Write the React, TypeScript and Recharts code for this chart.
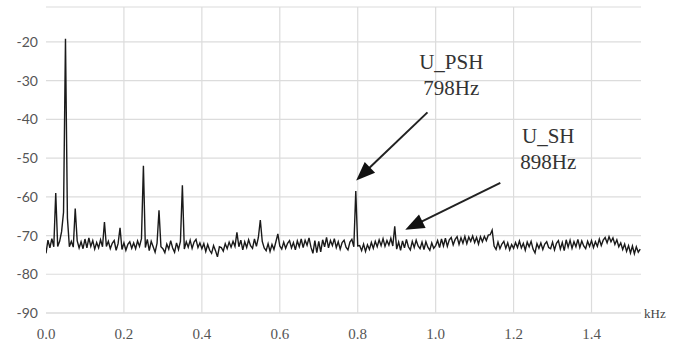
import React from "react";
import {
  LineChart,
  Line,
  XAxis,
  YAxis,
  CartesianGrid,
  ReferenceLine,
  ReferenceDot,
} from "recharts";

// Spectrum sampled every 5 Hz from 0 Hz (values in dB)
const FREQ_STEP_KHZ = 0.005;
const levelsDb: number[] = [
  // 0 - 95 Hz
  -74.6, -71.2, -73.2, -70.8, -72.9, -59.0, -72.8, -71.5, -69.0, -64.0,
  -19.2, -65.5, -72.9, -71.5, -73.0, -63.0, -71.3, -73.2, -71.6, -73.4,
  // 100 - 195 Hz
  -70.9, -73.2, -70.6, -72.8, -71.3, -73.5, -71.8, -73.2, -71.1, -72.9,
  -66.5, -72.8, -71.5, -73.4, -72.0, -71.3, -73.8, -72.1, -68.0, -73.6,
  // 200 - 295 Hz
  -71.9, -73.8, -72.3, -71.6, -73.3, -71.9, -73.4, -71.4, -72.8, -70.8,
  -52.0, -73.1, -71.0, -73.9, -71.5, -72.9, -74.3, -72.0, -63.5, -72.9,
  // 300 - 395 Hz
  -73.4, -74.4, -72.2, -73.5, -71.3, -73.2, -74.3, -71.9, -73.6, -71.5,
  -57.0, -73.5, -71.6, -73.0, -71.2, -73.3, -71.7, -71.0, -73.1, -71.9,
  // 400 - 495 Hz
  -73.4, -72.1, -74.1, -72.3, -73.8, -74.6, -72.6, -73.9, -75.5, -72.9,
  -73.1, -74.0, -72.1, -73.4, -71.7, -73.0, -71.5, -72.8, -69.2, -72.9,
  // 500 - 595 Hz
  -71.2, -73.7, -71.6, -73.1, -71.1, -72.6, -73.3, -70.9, -72.8, -70.5,
  -66.0, -71.5, -73.2, -73.9, -72.1, -74.1, -72.3, -73.6, -71.6, -69.6,
  // 600 - 695 Hz
  -72.7, -73.5, -71.7, -73.3, -72.0, -71.3, -73.2, -71.8, -73.7, -71.4,
  -72.9, -70.9, -73.1, -71.2, -72.5, -70.6, -73.0, -74.6, -71.3, -74.4,
  // 700 - 795 Hz
  -71.5, -74.2, -71.1, -72.9, -70.5, -73.2, -71.3, -72.6, -70.8, -73.1,
  -71.6, -73.5, -71.8, -71.2, -73.0, -73.7, -71.7, -71.0, -72.9, -58.5,
  // 800 - 895 Hz
  -72.7, -72.6, -73.9, -72.2, -74.1, -72.4, -73.6, -71.8, -73.3, -71.5,
  -72.9, -71.1, -72.6, -70.8, -72.8, -71.3, -72.5, -70.7, -72.7, -67.6,
  // 900 - 995 Hz
  -73.5, -71.7, -73.8, -71.4, -73.2, -71.0, -72.9, -73.7, -71.5, -73.1,
  -71.2, -72.7, -73.4, -71.7, -73.6, -71.6, -73.0, -73.8, -71.9, -73.3,
  // 1000 - 1095 Hz
  -72.6, -71.3, -73.1, -70.9, -72.7, -70.7, -72.8, -71.1, -70.5, -72.4,
  -71.0, -70.3, -72.3, -70.6, -72.0, -70.2, -72.1, -70.4, -71.5, -70.1,
  // 1100 - 1195 Hz
  -71.8, -70.5, -72.2, -70.3, -71.6, -70.2, -71.3, -69.9, -69.8, -68.6,
  -72.7, -73.6, -71.7, -73.4, -72.2, -71.5, -73.3, -71.9, -73.7, -72.3,
  // 1200 - 1295 Hz
  -73.3, -71.8, -73.1, -71.4, -73.2, -72.0, -73.8, -71.7, -72.9, -71.5,
  -73.5, -74.5, -72.1, -73.3, -71.9, -73.6, -72.2, -71.6, -73.1, -73.4,
  // 1300 - 1395 Hz
  -71.7, -73.7, -72.0, -71.3, -73.5, -71.8, -73.9, -71.1, -73.0, -71.2,
  -73.3, -71.6, -72.9, -71.0, -73.1, -71.4, -72.7, -73.4, -71.5, -72.8,
  // 1400 - 1495 Hz
  -71.3, -73.1, -71.6, -72.8, -70.9, -72.6, -71.2, -70.5, -71.9, -70.3,
  -71.6, -70.6, -72.3, -71.1, -72.9, -71.9, -73.6, -72.2, -74.1, -72.6,
  // 1500 - 1525 Hz
  -74.5, -72.7, -74.7, -72.9, -74.3, -73.5,
];

const xTicks = [0, 0.2, 0.4, 0.6, 0.8, 1.0, 1.2, 1.4];
const xGridLines = [0.2, 0.4, 0.6, 0.8, 1.0, 1.2, 1.4];
const yTicks = [-90, -80, -70, -60, -50, -40, -30, -20];
const X_MAX = 1.527;
const Y_MIN = -90;
const Y_MAX = -11;

// Annotations (data coordinates: kHz, dB)
const annotationTexts = [
  { lines: ["U_PSH", "798Hz"], x: 1.04, y: -25.3 },
  { lines: ["U_SH", "898Hz"], x: 1.289, y: -44.4 },
];
const arrows = [
  { from: { x: 0.979, y: -38.2 }, to: { x: 0.796, y: -55.8 } },
  { from: { x: 1.166, y: -56.4 }, to: { x: 0.922, y: -68.5 } },
];

const data = levelsDb.map((v, i) => ({
  f: Math.round(i * FREQ_STEP_KHZ * 1000) / 1000,
  v,
}));

const ArrowShape = (props: any) => {
  const { x1, y1, x2, y2 } = props;
  const dx = x2 - x1;
  const dy = y2 - y1;
  const len = Math.sqrt(dx * dx + dy * dy) || 1;
  const ux = dx / len;
  const uy = dy / len;
  const nx = -uy;
  const ny = ux;
  const L = 19;
  const W = 7.5;
  const bx = x2 - ux * L;
  const by = y2 - uy * L;
  const pts = `${x2},${y2} ${bx + nx * W},${by + ny * W} ${bx - nx * W},${by - ny * W}`;
  return (
    <g>
      <line x1={x1} y1={y1} x2={bx + ux * 2} y2={by + uy * 2} stroke="#222" strokeWidth={2} />
      <polygon points={pts} fill="#111" />
    </g>
  );
};

const makeTextShape = (lines: string[]) => (props: any) => {
  const { cx, cy } = props;
  return (
    <g>
      {lines.map((t, i) => (
        <text
          key={i}
          x={cx}
          y={cy + 7 + i * 25.5}
          textAnchor="middle"
          fontFamily="'Liberation Serif', 'DejaVu Serif', serif"
          fontSize={21}
          fill="#333"
        >
          {t}
        </text>
      ))}
    </g>
  );
};

export default function App() {
  return (
    <div
      style={{
        position: "absolute",
        left: 0,
        top: 0,
        width: 679,
        height: 342,
        background: "#fff",
      }}
    >
      <LineChart
        width={679}
        height={342}
        data={data}
        margin={{ top: 7, right: 38, left: 0, bottom: 0 }}
      >
        <CartesianGrid vertical={false} stroke="#dcdcdc" strokeWidth={1.2} />
        {xGridLines.map((g) => (
          <ReferenceLine key={g} x={g} stroke="#dcdcdc" strokeWidth={1.2} />
        ))}
        <ReferenceLine
          y={-90}
          stroke="#dcdcdc"
          strokeWidth={1.2}
          label={{
            value: "kHz",
            position: "right",
            offset: 3,
            fill: "#444",
            fontSize: 13,
            fontFamily: "'Liberation Serif', serif",
          }}
        />
        <XAxis
          type="number"
          dataKey="f"
          domain={[0, X_MAX]}
          ticks={xTicks}
          tickFormatter={(v: number) => v.toFixed(1)}
          axisLine={false}
          tickLine={false}
          height={29}
          tickMargin={9}
          tick={{ fill: "#555", fontSize: 15, fontFamily: "'Liberation Serif', serif" }}
          allowDataOverflow
        />
        <YAxis
          type="number"
          domain={[Y_MIN, Y_MAX]}
          ticks={yTicks}
          axisLine={false}
          tickLine={false}
          width={46}
          tick={{ fill: "#555", fontSize: 14, fontFamily: "Lato, 'Open Sans', sans-serif" }}
          allowDataOverflow
        />
        <Line
          type="linear"
          dataKey="v"
          stroke="#1a1a1a"
          strokeWidth={1.4}
          dot={false}
          isAnimationActive={false}
        />
        {arrows.map((a, i) => (
          <ReferenceLine
            key={"a" + i}
            segment={[a.from, a.to]}
            shape={ArrowShape}
            ifOverflow="visible"
          />
        ))}
        {annotationTexts.map((t, i) => (
          <ReferenceDot
            key={"t" + i}
            x={t.x}
            y={t.y}
            r={0}
            shape={makeTextShape(t.lines)}
            ifOverflow="visible"
          />
        ))}
      </LineChart>
    </div>
  );
}
